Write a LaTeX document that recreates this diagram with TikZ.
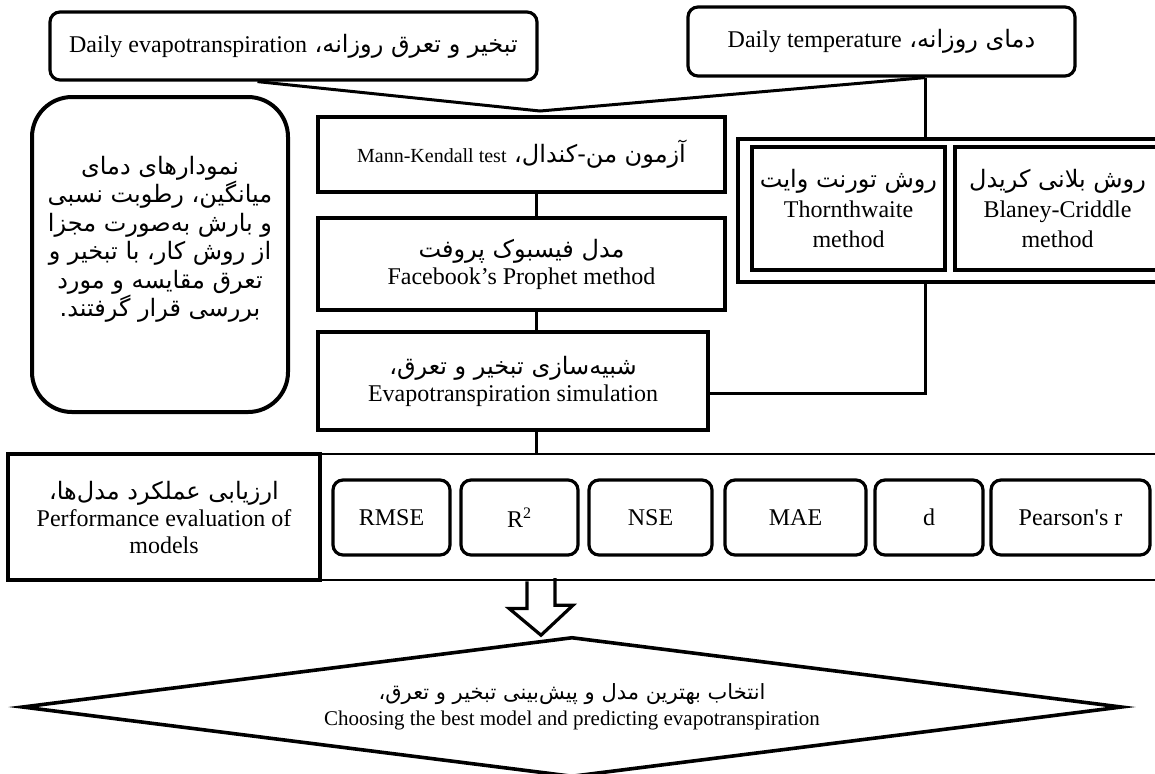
\documentclass[tikz,border=0pt]{standalone}
\usepackage{fontspec}
\setmainfont{Liberation Serif}
\newfontfamily\persianfont[Script=Arabic]{DejaVu Sans}
\newfontfamily\plainserif[Ligatures=ResetAll]{Liberation Serif}
\TeXXeTstate=1
\usetikzlibrary{shapes.geometric}

% one right-to-left line, and one with a latin tail
\newcommand{\fatext}[1]{{\persianfont\beginR #1\endR}}
\newcommand{\mixline}[2]{{\persianfont\beginR #1 \beginL{\rmfamily #2}\endL\endR}}

\begin{document}
\begin{tikzpicture}[x=0.5pt,y=-0.5pt,
  every node/.style={font=\fontsize{12}{13.5}\selectfont},
  rbox/.style={draw,line width=1.6pt,rounded corners=5pt,inner sep=0pt,align=center},
  sbox/.style={draw,line width=1.8pt,inner sep=0pt,align=center},
  link/.style={line width=1.5pt}]
\useasboundingbox (0,0) rectangle (1155,773);

% data
\node[rbox,minimum width=243.5pt,minimum height=34pt] (evap) at (293.5,46) {\mixline{تبخیر و تعرق روزانه،}{Daily evapotranspiration}};
\node[rbox,minimum width=193.5pt,minimum height=34.5pt] (temp) at (881.5,41.5) {\mixline{دمای روزانه،}{Daily temperature}};

% side note
\node[rbox,rounded corners=20pt,line width=2pt,minimum width=128pt,minimum height=157.5pt,font=\fontsize{12}{14.25}\selectfont] (note) at (160,254.5)
  {\fatext{نمودارهای دمای}\\\fatext{میانگین، رطوبت نسبی}\\\fatext{و بارش به‌صورت مجزا}\\\fatext{از روش کار، با تبخیر و}\\\fatext{تعرق مقایسه و مورد}\\\fatext{بررسی قرار گرفتند.}\\[4pt]\mbox{}};

% main column
\node[sbox,minimum width=203.5pt,minimum height=37.5pt] (mk) at (521.5,154.5) {\mixline{آزمون من-کندال،}{\fontsize{10}{12}\selectfont Mann-Kendall test}};
\node[sbox,minimum width=203.5pt,minimum height=46pt] (prophet) at (521.5,264) {\fatext{مدل فیسبوک پروفت}\\Facebook’s Prophet method};
\node[sbox,minimum width=195pt,minimum height=49pt] (sim) at (513,381) {\fatext{شبیه‌سازی تبخیر و تعرق،}\\Evapotranspiration simulation};

% reference methods
\node[sbox,minimum width=213.5pt,minimum height=71.5pt] (grp) at (951.5,210.5) {};
\node[sbox,minimum width=96.5pt,minimum height=61.5pt,font=\fontsize{12}{15}\selectfont] (thorn) at (848.5,208.5) {\fatext{روش تورنت وایت}\\Thornthwaite\\method};
\node[sbox,minimum width=102.5pt,minimum height=61.5pt,font=\fontsize{12}{15}\selectfont] (blaney) at (1057.5,208.5) {\fatext{روش بلانی کریدل}\\Blaney-Criddle\\method};

% evaluation
\node[sbox,line width=2pt,minimum width=156pt,minimum height=63pt] (evalname) at (164,517) {\fatext{ارزیابی عملکرد مدل‌ها،}\\Performance evaluation of\\models};
\node[draw,line width=1.4pt,minimum width=422.5pt,minimum height=63pt,inner sep=0pt] (evalrow) at (742.5,517) {};
\node[rbox,minimum width=58.5pt,minimum height=37.5pt] (rmse) at (391.5,517.5) {RMSE};
\node[rbox,minimum width=58.5pt,minimum height=37.5pt] (rsq) at (519.5,517.5) {R\textsuperscript{2}};
\node[rbox,minimum width=61.5pt,minimum height=37.5pt] (nse) at (650.5,517.5) {NSE};
\node[rbox,minimum width=70.5pt,minimum height=37.5pt] (mae) at (795.5,517.5) {MAE};
\node[rbox,minimum width=54pt,minimum height=37.5pt] (dind) at (929,517.5) {d};
\node[rbox,minimum width=79.5pt,minimum height=37.5pt] (pearson) at (1070.5,517.5) {{\plainserif Pearson's r}};

% decision
\node[draw,diamond,aspect=6,line width=1.8pt,minimum width=550pt,minimum height=70pt,inner sep=0pt,align=center,font=\fontsize{10.5}{13}\selectfont] (best) at (572,707)
  {\fatext{انتخاب بهترین مدل و پیش‌بینی تبخیر و تعرق،}\\Choosing the best model and predicting evapotranspiration};

% connectors
\coordinate (spine) at (536,0);
\coordinate (tcol) at (925,0);
\coordinate (apex) at (540,111);
\coordinate (drop) at (541,0);
\draw[link] ([xshift=-18pt]evap.south) -- (apex) -- (temp.south -| tcol);
\draw[link] (temp.south -| tcol) -- (grp.north -| tcol);
\draw[link] (grp.south -| tcol) |- ([yshift=-6pt]sim.east);
\draw[link] (mk.south -| spine) -- (prophet.north -| spine);
\draw[link] (prophet.south -| spine) -- (sim.north -| spine);
\draw[link] (sim.south -| spine) -- (evalrow.north -| spine);
\draw[line width=1.6pt] (evalrow.south -| drop) ++(-14,0) -- ++(0,27) -- ++(-18,0) -- (drop |- best.north) -- ++(32,-30) -- ++(-18,0) -- ++(0,-27);
\end{tikzpicture}
\end{document}
